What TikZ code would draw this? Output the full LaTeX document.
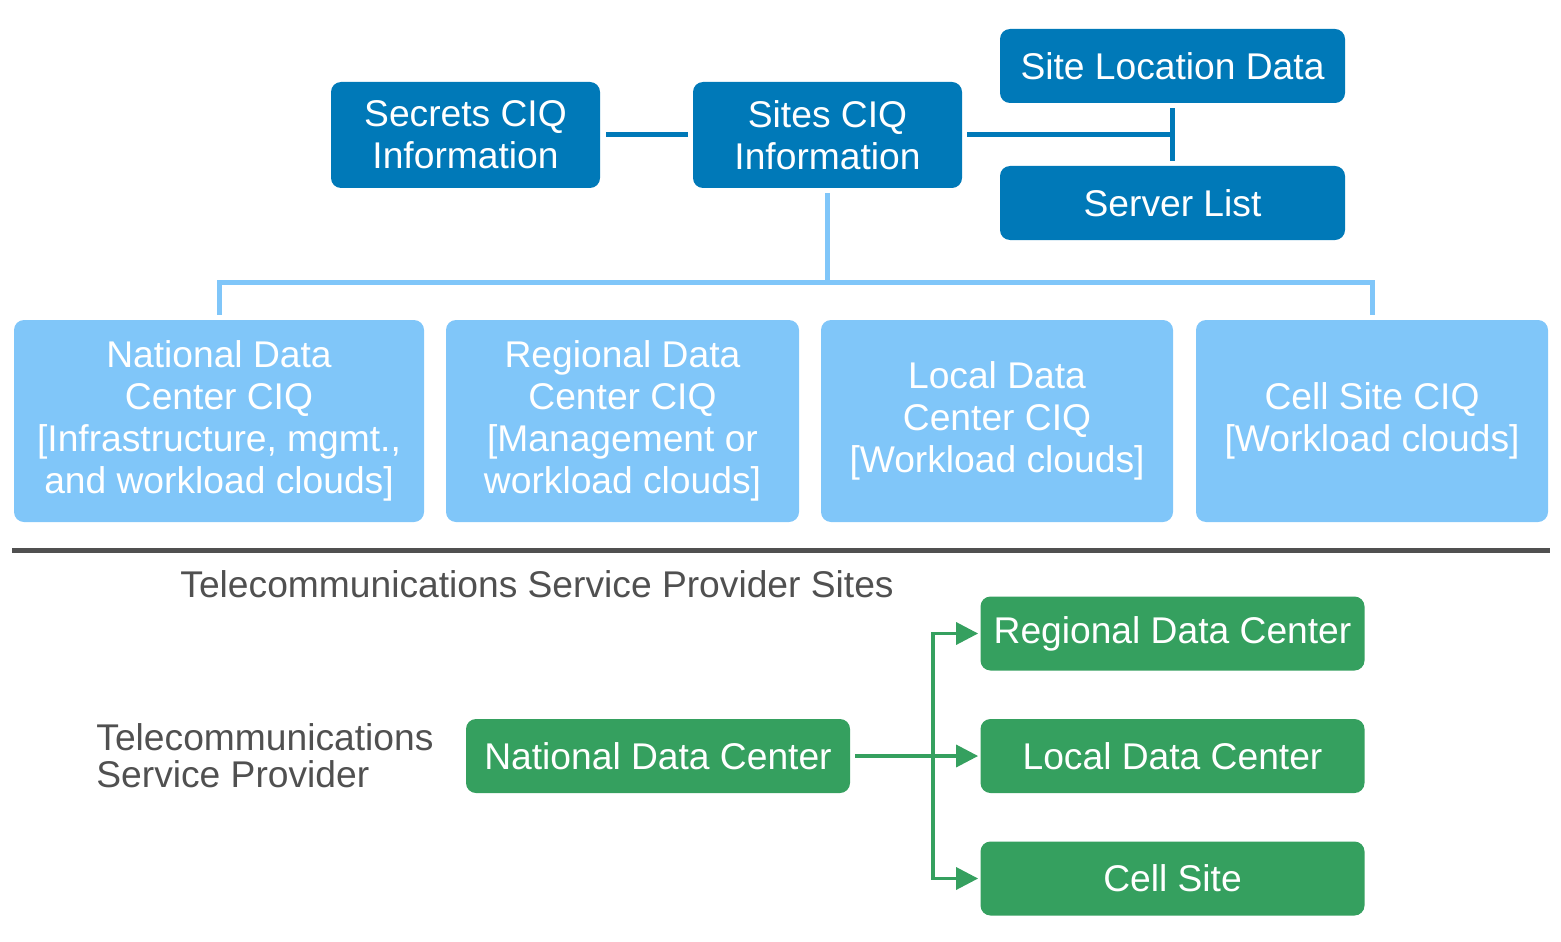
\documentclass[tikz,border=0pt]{standalone}
\usepackage{fontspec}
\setmainfont{Liberation Sans}
\usetikzlibrary{arrows.meta}
\definecolor{ciqdark}{HTML}{0079B8}
\definecolor{ciqlight}{HTML}{80C6F9}
\definecolor{sitegreen}{HTML}{35A05F}
\definecolor{rulegray}{HTML}{505050}

\begin{document}
\begin{tikzpicture}[x=0.5pt,y=-0.5pt]
  \tikzstyle{every node}+=[inner sep=0pt]
  \tikzstyle{boxtext}=[text=white, align=center, rounded corners=5pt, font=\fontsize{18.6}{21}\selectfont]
  \tikzstyle{darkbox}=[boxtext, fill=ciqdark]
  \tikzstyle{lightbox}=[boxtext, fill=ciqlight, minimum height=101pt]
  \tikzstyle{greenbox}=[boxtext, fill=sitegreen, minimum width=192pt, minimum height=37pt]
  \tikzstyle{darkline}=[draw=ciqdark, line width=2.5pt]
  \tikzstyle{lightline}=[draw=ciqlight, line width=2.5pt]
  \tikzstyle{greenline}=[draw=sitegreen, line width=1.75pt]
  \tikzstyle{graytext}=[text=rulegray, align=left, font=\fontsize{18.6}{18.5}\selectfont]
  \useasboundingbox (0,0) rectangle (1561,941);

  % top row
  \node[darkbox, minimum width=134.5pt, minimum height=53pt] (secrets) at (465.5,135) {Secrets CIQ\\Information};
  \node[darkbox, minimum width=134.5pt, minimum height=53pt] (sites) at (827.5,135) {Sites CIQ\\Information};
  \node[darkbox, minimum width=172.5pt, minimum height=37pt] (sitedata) at (1172.5,66) {Site Location Data};
  \node[darkbox, minimum width=172.5pt, minimum height=37pt] (servers) at (1172.5,203) {Server List};

  \draw[darkline, shorten <=3pt, shorten >=2.5pt] (secrets.east) -- (sites.west);
  \draw[darkline, shorten <=2.5pt] (sites.east) -- (sites.east -| sitedata.south);
  \draw[darkline, shorten <=2.5pt, shorten >=2.5pt] (sitedata.south) -- (servers.north);

  % site CIQ boxes
  \node[lightbox, minimum width=205pt] (natciq) at (219,421) {National Data\\Center CIQ\\{[}Infrastructure, mgmt.,\\and workload clouds]};
  \node[lightbox, minimum width=176.5pt] (regciq) at (622.5,421) {Regional Data\\Center CIQ\\{[}Management or\\workload clouds]};
  \node[lightbox, minimum width=176pt] (locciq) at (997,421) {Local Data\\Center CIQ\\{[}Workload clouds]};
  \node[lightbox, minimum width=176pt] (cellciq) at (1372,421) {Cell Site CIQ\\{[}Workload clouds]};
  \coordinate (bar) at (827.5,282);

  \draw[lightline, shorten <=2.5pt] (sites.south) -- (bar);
  \draw[lightline, shorten >=2.5pt] (bar) -| (natciq.north);
  \draw[lightline, shorten >=2.5pt] (bar) -| (cellciq.north);

  % separator
  \draw[draw=rulegray, line width=2.5pt] (12,550) -- (1550,550);
  \node[graytext, anchor=west] (sitestitle) at (180,584) {Telecommunications Service Provider Sites};
  \node[graytext, anchor=west] (provider) at (96,755.5) {Telecommunications\\Service Provider};

  % sites
  \node[greenbox] (natdc) at (658,756) {National Data Center};
  \node[greenbox] (regdc) at (1172.5,633.5) {Regional Data Center};
  \node[greenbox] (locdc) at (1172.5,756) {Local Data Center};
  \node[greenbox] (cell) at (1172.5,878.5) {Cell Site};
  \coordinate (fork) at (933,756);

  \draw[greenline, -{Triangle[length=11pt,width=11pt]}, shorten <=2.5pt, shorten >=1pt] (natdc.east) -- (locdc.west);
  \draw[greenline, {Triangle[length=11pt,width=11pt]}-{Triangle[length=11pt,width=11pt]}, shorten <=1pt, shorten >=1pt] (regdc.west) -| (fork) |- (cell.west);
\end{tikzpicture}
\end{document}
